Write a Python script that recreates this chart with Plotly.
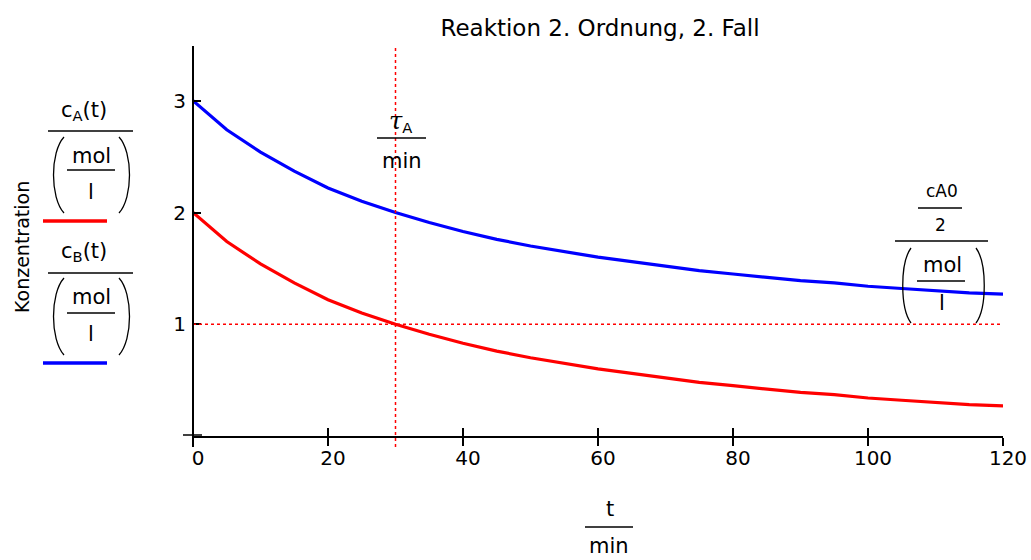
import plotly.graph_objects as go

# Data
t_min = [0, 5, 10, 15, 20, 25, 30, 35, 40, 45, 50, 55, 60, 65, 70, 75, 80, 85, 90, 95, 100, 105, 110, 115, 120]
c_A = [2.00, 1.74, 1.54, 1.37, 1.22, 1.10, 1.00, 0.91, 0.83, 0.76, 0.70, 0.65, 0.60, 0.56, 0.52, 0.48, 0.45, 0.42, 0.39, 0.37, 0.34, 0.32, 0.30, 0.28, 0.27]
c_B = [3.00, 2.74, 2.54, 2.37, 2.22, 2.10, 2.00, 1.91, 1.83, 1.76, 1.70, 1.65, 1.60, 1.56, 1.52, 1.48, 1.45, 1.42, 1.39, 1.37, 1.34, 1.32, 1.30, 1.28, 1.27]
tau_A = 30
half_cA0 = 1.0
x_ticks = [0, 20, 40, 60, 80, 100, 120]
y_ticks = [0, 1, 2, 3]
y_ticktext = [" ", "1", "2", "3"]

W, H = 1031, 560
ML, MR, MT, MB = 193, 28, 46, 124
PW, PH = W - ML - MR, H - MT - MB
FONT = "DejaVu Sans, Liberation Sans, Arial, sans-serif"


def px(x):
    return (x - ML) / PW


def py(y):
    return (H - MB - y) / PH


fig = go.Figure()
fig.add_trace(go.Scatter(x=t_min, y=c_A, mode="lines", line=dict(color="#ff0000", width=3.2),
                         showlegend=False, hoverinfo="x+y"))
fig.add_trace(go.Scatter(x=t_min, y=c_B, mode="lines", line=dict(color="#0000ff", width=3.2),
                         showlegend=False, hoverinfo="x+y"))
# dummy trace for the overlay axis (inner tick marks)
fig.add_trace(go.Scatter(x=[0], y=[0], xaxis="x2", mode="markers", marker=dict(opacity=0),
                         showlegend=False, hoverinfo="skip"))

shapes = []
# red dotted markers
shapes.append(dict(type="line", xref="x", yref="paper", x0=tau_A, x1=tau_A, y0=py(447), y1=1,
                   line=dict(color="#ff0000", width=1.5, dash="dot")))
shapes.append(dict(type="line", xref="paper", yref="y", x0=0, x1=1, y0=half_cA0, y1=half_cA0,
                   line=dict(color="#ff0000", width=1.5, dash="dot")))
# y axis line extending below the x axis
shapes.append(dict(type="line", xref="paper", yref="paper", x0=0, x1=0, y0=py(447), y1=1,
                   line=dict(color="black", width=2)))
# small cross tick at origin
shapes.append(dict(type="line", xref="paper", yref="paper", x0=px(183), x1=px(202), y0=py(435), y1=py(435),
                   line=dict(color="black", width=1.5)))


def hline(x0, x1, y, width=1.5, color="black"):
    shapes.append(dict(type="line", xref="paper", yref="paper", x0=px(x0), x1=px(x1),
                       y0=py(y), y1=py(y), line=dict(color=color, width=width)))


def paren(xo, xi, top, bot):
    # xo: outer bulge x, xi: end x
    d = "M {:.5f},{:.5f} C {:.5f},{:.5f} {:.5f},{:.5f} {:.5f},{:.5f}".format(
        px(xi), py(top), px(xo), py(top + (bot - top) * 0.2), px(xo), py(bot - (bot - top) * 0.2), px(xi), py(bot))
    shapes.append(dict(type="path", xref="paper", yref="paper", path=d, line=dict(color="black", width=1.3)))


annotations = []


def text(s, x, y, size=21, **kw):
    annotations.append(dict(text=s, x=px(x), y=py(y), xref="paper", yref="paper", showarrow=False,
                            xanchor="center", yanchor="middle", font=dict(family=FONT, size=size, color="black"), **kw))


# left legend block: c_A
text("c<sub>A</sub>(t)", 84, 111)
hline(48, 133, 131)
paren(50, 64, 137, 213)
paren(133, 119, 137, 213)
text("mol", 91, 156)
hline(67, 115, 170)
text("l", 91, 192)
hline(43, 107, 221, width=3.5, color="#ff0000")
# c_B
text("c<sub>B</sub>(t)", 84, 252)
hline(48, 133, 273)
paren(50, 64, 278, 355)
paren(133, 119, 278, 355)
text("mol", 91, 297)
hline(67, 115, 313)
text("l", 91, 334)
hline(43, 107, 363, width=3.5, color="#0000ff")
text("Konzentration", 22, 247, size=19, textangle=-90)

# tau_A label
text("<span style='font-family:DejaVu Serif;font-size:24px'><i>τ</i></span><sub>A</sub>", 400, 121)
hline(377, 426, 138)
text("min", 402, 161)

# c_A0 / 2 label
text("cA0", 942, 191, size=17)
hline(918, 962, 208)
text("2", 940, 225, size=17)
hline(895, 988, 241)
paren(900, 911, 248, 323)
paren(987, 976, 248, 323)
text("mol", 942, 265)
hline(917, 965, 281)
text("l", 942, 303)

# x axis label
text("t", 610, 509)
hline(585, 633, 527)
text("min", 609, 546)

fig.update_layout(
    width=W, height=H,
    autosize=False,
    margin=dict(l=ML, r=MR, t=MT, b=MB, autoexpand=False),
    paper_bgcolor="white", plot_bgcolor="white",
    font=dict(family=FONT, size=20, color="black"),
    title=dict(text="Reaktion 2. Ordnung, 2. Fall", x=600 / W, y=1 - 28 / H, xref="container",
               xanchor="center", yanchor="middle", font=dict(family=FONT, size=23, color="black"),
               automargin=False),
    xaxis=dict(range=[0, 120], tickvals=x_ticks, ticktext=[str(v) for v in x_ticks], ticks="outside",
               ticklen=8, tickwidth=1.5, tickcolor="black", showline=True, linecolor="black", linewidth=2,
               showgrid=False, zeroline=False, tickfont=dict(family=FONT, size=20, color="black"),
               ticklabelshift=5, ticklabelstandoff=-5, fixedrange=True, automargin=False),
    xaxis2=dict(range=[0, 120], overlaying="x", side="bottom", tickvals=x_ticks, ticks="inside",
                ticklen=8, tickwidth=1.5, tickcolor="black", showticklabels=False, showline=False,
                showgrid=False, zeroline=False, fixedrange=True, automargin=False),
    yaxis=dict(range=[0, 3.49], tickvals=y_ticks, ticktext=y_ticktext, ticks="inside", ticklen=8,
               tickwidth=1.5, tickcolor="black", showline=False, showgrid=False, zeroline=False,
               tickfont=dict(family=FONT, size=20, color="black"), ticklabelstandoff=6, fixedrange=True,
               automargin=False),
    shapes=shapes,
    annotations=annotations,
    showlegend=False,
)

fig.write_html("out.html", config={"displayModeBar": False},
               post_script="document.body.style.margin='0';document.body.style.overflow='hidden';")
